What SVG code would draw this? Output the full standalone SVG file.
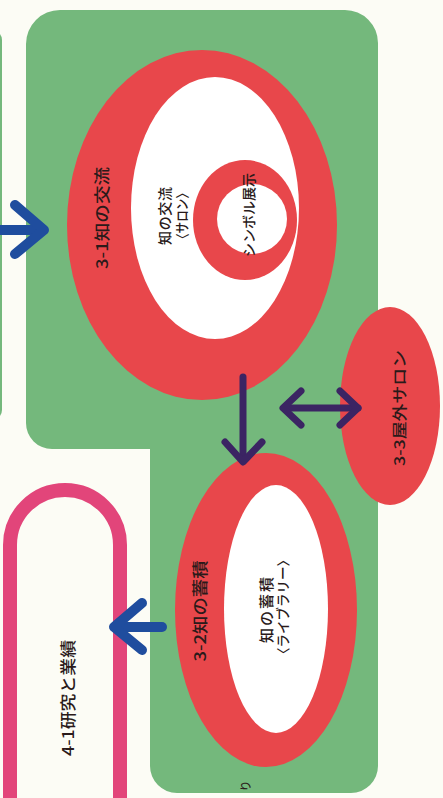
<svg xmlns="http://www.w3.org/2000/svg" width="443" height="798" viewBox="0 0 443 798">
  <style>
    .green { fill: #74b87c; }
    .red { fill: #e8474b; }
    .white { fill: #ffffff; }
    .lbl { font-family: "Noto Sans CJK JP", "Noto Sans", sans-serif; font-weight: 500; fill: #2a1a1a; text-anchor: middle; dominant-baseline: central; }
    .blue { stroke: #1f4d9e; stroke-width: 10; stroke-linecap: round; stroke-linejoin: round; fill: none; }
    .purple { stroke: #3b2463; stroke-width: 7; stroke-linecap: round; stroke-linejoin: round; fill: none; }
  </style>
  <rect x="0" y="0" width="443" height="798" fill="#fcfcf5"/>

  <g id="left-box-edge">
    <rect x="-20" y="30" width="22" height="390" rx="10" class="green"/>
  </g>

  <g id="area-3">
    <path class="green" d="M 60,10 H 345 A 33 33 0 0 1 378 43 V 766 A 27 27 0 0 1 351 793 H 177 A 27 27 0 0 1 150 766 V 449 H 52 A 26 26 0 0 1 26 423 V 44 A 34 34 0 0 1 60 10 Z"/>
    <text class="lbl" font-size="11" transform="translate(245,786) rotate(-90)">り</text>
  </g>

  <g id="node-3-1">
    <ellipse class="red" cx="202" cy="225" rx="135" ry="175"/>
    <ellipse class="white" cx="215" cy="208" rx="84" ry="131"/>
    <text class="lbl" font-size="16" textLength="102" lengthAdjust="spacingAndGlyphs" transform="translate(101,218) rotate(-90)">3-1知の交流</text>
    <text class="lbl" font-size="14" textLength="58" transform="translate(164,216) rotate(-90)">知の交流</text>
    <text class="lbl" font-size="14" textLength="58" lengthAdjust="spacingAndGlyphs" transform="translate(181,216) rotate(-90)">〈サロン〉</text>
  </g>

  <g id="node-symbol">
    <ellipse class="red" cx="245" cy="220" rx="52" ry="60"/>
    <circle class="white" cx="252" cy="219" r="35"/>
    <text class="lbl" font-size="14" textLength="84" transform="translate(248,215) rotate(-90)">シンボル展示</text>
  </g>

  <g id="node-3-3">
    <ellipse class="red" cx="390" cy="406" rx="50" ry="99"/>
    <text class="lbl" font-size="15" textLength="116" lengthAdjust="spacingAndGlyphs" transform="translate(398,408) rotate(-90)">3-3屋外サロン</text>
  </g>

  <g id="node-3-2">
    <ellipse class="red" cx="266" cy="610" rx="91" ry="157"/>
    <ellipse class="white" cx="276" cy="609" rx="52" ry="124"/>
    <text class="lbl" font-size="16" textLength="101" lengthAdjust="spacingAndGlyphs" transform="translate(199,611) rotate(-90)">3-2知の蓄積</text>
    <text class="lbl" font-size="15" textLength="66" transform="translate(265,610) rotate(-90)">知の蓄積</text>
    <text class="lbl" font-size="13.5" textLength="108" lengthAdjust="spacingAndGlyphs" transform="translate(282,607) rotate(-90)">〈ライブラリー〉</text>
  </g>

  <g id="node-4-1">
    <path d="M 10,805 V 545 A 55 55 0 0 1 120 545 V 805" fill="none" stroke="#e2457a" stroke-width="14"/>
    <text class="lbl" font-size="16" textLength="116" lengthAdjust="spacingAndGlyphs" transform="translate(67,698) rotate(-90)">4-1研究と業績</text>
  </g>

  <g id="connectors">
    <path class="blue" d="M -5,230 H 42"/>
    <path class="blue" d="M 15,205 L 44,230 L 15,254"/>
    <path class="blue" d="M 116,627 H 162"/>
    <path class="blue" d="M 142,603 L 114,627 L 142,650"/>
    <path class="purple" d="M 243,377 V 460"/>
    <path class="purple" d="M 225,442 L 243,462 L 262,442"/>
    <path class="purple" d="M 284,408 H 358"/>
    <path class="purple" d="M 301,391 L 283,408 L 301,425"/>
    <path class="purple" d="M 340,391 L 358,408 L 340,425"/>
  </g>
</svg>
